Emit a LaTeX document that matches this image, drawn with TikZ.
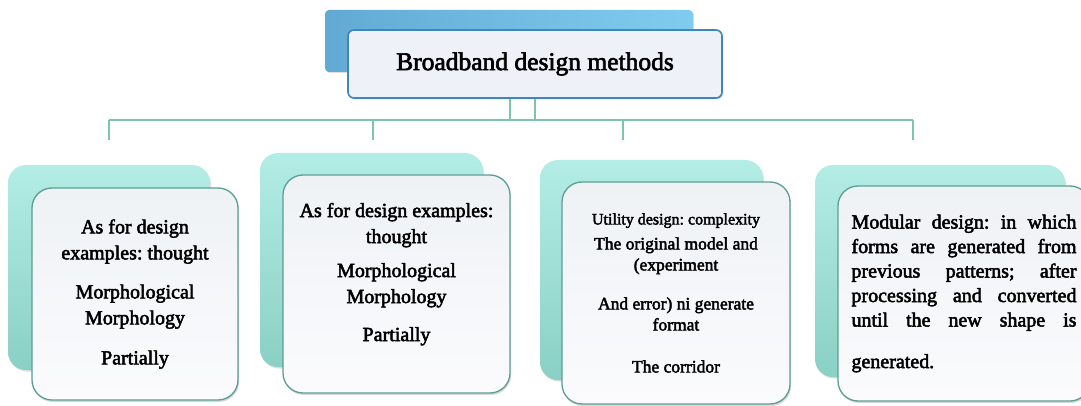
\documentclass[tikz,border=0pt]{standalone}
\usepackage{fontspec}
\setmainfont{Liberation Serif}[FakeBold=2.5]
\usetikzlibrary{shadows}

\definecolor{linkgreen}{HTML}{7CC5AA}
\definecolor{tealtop}{HTML}{B3EDE5}
\definecolor{tealbot}{HTML}{8AD0C4}
\definecolor{cardline}{HTML}{5C9E94}
\definecolor{cardtop}{HTML}{EEF2F5}
\definecolor{cardbot}{HTML}{FBFBFD}
\definecolor{blueleft}{HTML}{62AAD4}
\definecolor{blueright}{HTML}{80CCF0}
\definecolor{topline}{HTML}{3E87B8}
\definecolor{topfill}{HTML}{EEF1F7}

\begin{document}
\frenchspacing
\begin{tikzpicture}[
    x=1pt,y=-1pt,
    topback/.style={rounded corners=4pt,left color=blueleft,right color=blueright,
      inner sep=0pt,drop shadow={shadow xshift=1pt,shadow yshift=-1pt,opacity=0.25}},
    topcard/.style={draw=topline,line width=1.6pt,fill=topfill,rounded corners=6pt,
      inner sep=0pt,font=\fontsize{25.5}{30}\selectfont,
      drop shadow={shadow xshift=1pt,shadow yshift=-1.5pt,opacity=0.3}},
    backcard/.style={rounded corners=18pt,top color=tealtop,bottom color=tealbot,
      inner sep=0pt,drop shadow={shadow xshift=1pt,shadow yshift=-1.5pt,opacity=0.25}},
    card/.style={draw=cardline,line width=1.3pt,rounded corners=20pt,
      top color=cardtop,bottom color=cardbot,inner sep=0pt,align=center,
      font=\fontsize{20}{26}\selectfont,
      drop shadow={shadow xshift=1pt,shadow yshift=-2pt,opacity=0.3}},
    link/.style={draw=linkgreen,line width=2pt}]
  \useasboundingbox (0,0) rectangle (1081,406);

  % top of the chart
  \node[topback,minimum width=368pt,minimum height=62pt] (topb) at (509,41) {};
  \node[topcard,minimum width=374pt,minimum height=68pt] (top) at (535,64) {Broadband design methods};

  % back cards
  \node[backcard,minimum width=202pt,minimum height=205pt] (b1) at (109,267.5) {};
  \node[backcard,minimum width=223pt,minimum height=214pt] (b2) at (371.5,260) {};
  \node[backcard,minimum width=223pt,minimum height=220pt] (b3) at (651.5,270) {};
  \node[backcard,minimum width=250pt,minimum height=212pt] (b4) at (940,271) {};

  % front cards
  \node[card,minimum width=206pt,minimum height=212pt] (c1) at (135,294)
    {As for design\\examples: thought\\[13pt]Morphological\\Morphology\\[14pt]Partially};
  \node[card,minimum width=227pt,minimum height=218pt] (c2) at (396.5,284)
    {As for design examples:\\thought\\[8pt]Morphological\\Morphology\\[12pt]Partially\\[-2pt]\mbox{}};
  \node[card,minimum width=228pt,minimum height=222pt,font=\fontsize{17.5}{21}\selectfont] (c3) at (676,293)
    {{\fontsize{16}{20}\selectfont Utility design: complexity}\\[4pt]The original model and\\(experiment\\[18pt]
     And error) ni generate\\format\\[21pt]The corridor};
  \node[card,minimum width=252pt,minimum height=215pt,text width=225pt,align=justify,
    font=\fontsize{20}{24.5}\selectfont] (c4) at (964,293.5)
    {\tolerance=10000 \hyphenpenalty=10000 Modular design: in which\linebreak forms are generated from\linebreak
     previous patterns; after\linebreak processing and converted\linebreak
     until the new shape is{\parfillskip=0pt\par}\vspace{17pt}generated.};

  % connectors
  \coordinate (bus) at (535,120);
  \coordinate (d1) at (109,140);
  \coordinate (d2) at (373,140);
  \coordinate (d3) at (623,140);
  \coordinate (d4) at (913,140);
  \draw[link] (d1 |- bus) -- (d4 |- bus);
  \draw[link] (top.south) -- (top.south |- bus);
  \draw[link] ([xshift=-25pt]top.south) -- ([xshift=-25pt]top.south |- bus);
  \foreach \d in {d1,d2,d3,d4}
    \draw[link] (\d |- bus) -- (\d);
\end{tikzpicture}
\end{document}
